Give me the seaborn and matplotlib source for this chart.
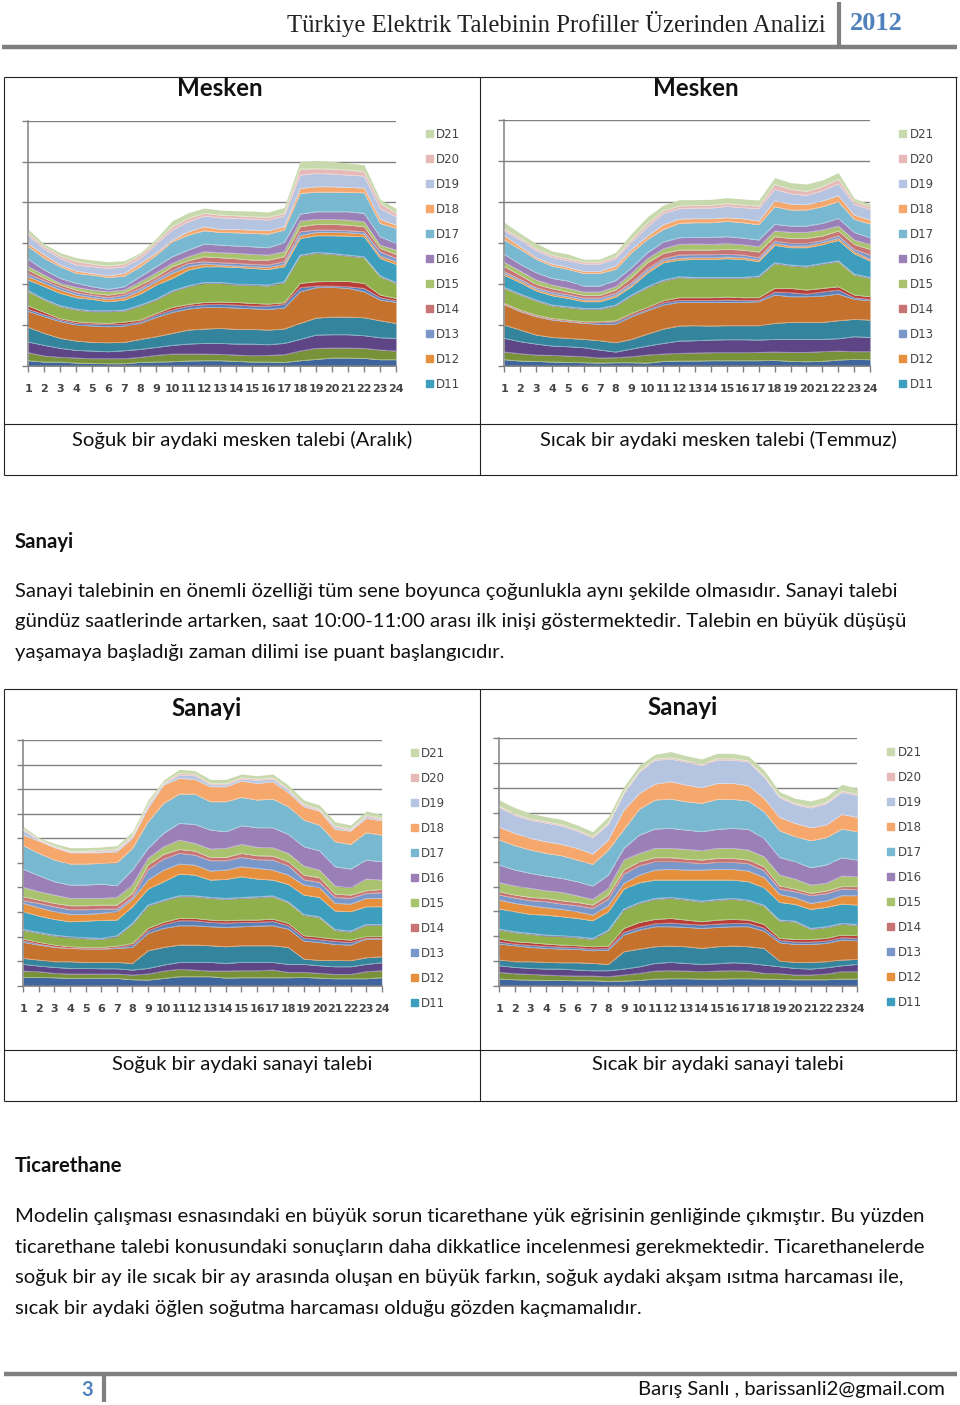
import numpy as np
import matplotlib
matplotlib.use("Agg")
import matplotlib.pyplot as plt
from matplotlib.lines import Line2D
from matplotlib.patches import Patch
import seaborn as sns

hours = list(range(1, 25))
series_names = ["D1","D3","D4","D5","D6","D7","D8","D9","D10","D11","D12","D13","D14","D15","D16","D17","D18","D19","D20","D21"]
series_colors = ["#3f659e","#78923a","#5e4585","#33849c","#c4722d","#5b80b8","#b83c38","#90b04c","#6a4f90","#3d9fbd","#e68f3c","#7a97c9","#c87473","#a9c26e","#9b80b8","#78b8d1","#f5a76c","#b5c4e0","#e6b9b8","#c9d9ae"]
legend_names = ["D21","D20","D19","D18","D17","D16","D15","D14","D13","D12","D11"]

# Cumulative stack tops (cold-month residential)
m1_d01=[16,12,12,9,8,7,7,11,12,13,15,16,16,14,12,12,11,16,20,24,24,23,19,19]
m1_d03=[40,30,26,24,22,22,22,26,32,36,36,36,35,33,31,32,34,45,53,54,54,53,48,45]
m1_d04=[72,62,53,47,45,43,46,50,56,62,66,68,68,66,66,64,68,80,93,94,94,91,85,83]
m1_d05=[116,98,83,75,71,70,71,80,88,98,108,111,113,110,110,108,111,128,144,147,147,145,136,128]
m1_d06=[164,148,133,123,120,118,120,128,146,161,171,176,176,174,172,170,174,223,235,236,233,223,198,191]
m1_d07=[170,154,138,128,126,124,125,133,153,168,180,184,185,183,180,180,185,235,240,240,238,233,205,196]
m1_d08=[180,161,142,133,130,128,132,138,158,176,185,191,192,191,188,186,190,248,253,254,254,248,213,203]
m1_d09=[223,198,178,168,163,163,165,180,198,223,238,248,248,243,242,240,250,330,338,335,330,325,268,248]
m1_d10=[226,201,181,171,166,166,168,183,201,226,241,251,251,246,245,243,253,333,341,338,333,328,271,251]
m1_d11=[258,238,218,205,200,193,198,216,243,263,288,298,298,296,293,290,298,383,391,391,390,388,323,305]
m1_d12=[268,248,228,213,205,200,205,226,253,278,298,306,303,300,298,296,305,391,401,401,400,396,330,313]
m1_d13=[276,256,236,220,212,205,213,233,260,286,308,313,310,308,305,303,313,403,408,408,406,403,343,323]
m1_d14=[288,263,243,228,218,213,220,243,268,298,316,328,325,322,318,318,328,418,425,425,423,418,353,335]
m1_d15=[298,273,248,236,228,223,228,253,280,308,328,343,340,338,335,333,343,435,440,440,438,433,363,348]
m1_d16=[320,288,263,248,238,230,238,268,298,328,348,366,363,360,358,355,370,456,463,463,463,458,388,368]
m1_d17=[358,323,298,278,273,266,270,298,333,373,393,406,401,400,398,396,408,518,522,522,521,520,428,413]
m1_d18=[366,333,303,285,278,271,278,308,340,378,403,418,410,410,408,406,418,533,538,538,536,534,440,423]
m1_d19=[391,351,323,303,298,293,298,323,366,408,433,450,445,443,441,438,450,573,578,576,573,570,473,448]
m1_d20=[398,358,330,313,306,300,306,333,373,418,443,458,453,451,448,446,458,591,592,591,588,583,488,458]
m1_d21=[410,366,340,325,318,313,316,340,383,436,460,474,468,466,465,462,476,614,617,614,609,604,500,473]

# warm-month residential
m2_d01=[19,15,14,12,11,10,9,10,10,9,14,15,15,16,16,16,16,17,14,13,14,18,20,19]
m2_d03=[42,37,33,32,30,28,24,25,28,33,36,38,39,40,40,40,41,42,41,41,43,45,43,43]
m2_d04=[83,73,66,60,58,55,48,42,51,60,68,75,76,78,79,79,78,80,80,80,80,82,88,86]
m2_d05=[123,108,93,86,83,80,76,70,80,96,111,120,121,120,121,121,121,128,131,131,131,136,140,138]
m2_d06=[184,163,148,138,133,128,125,126,148,166,183,191,191,191,191,191,193,213,208,208,210,216,200,196]
m2_d07=[185,165,150,140,135,130,130,133,153,170,190,197,197,197,198,197,197,222,220,216,222,228,205,200]
m2_d08=[188,168,153,143,138,133,133,136,158,176,196,205,205,205,207,205,205,233,233,228,233,238,213,208]
m2_d09=[233,213,195,180,175,170,170,180,210,235,255,265,263,263,263,263,267,307,300,297,305,313,273,263]
m2_d10=[236,216,198,183,178,173,173,183,213,238,258,268,266,266,266,266,270,310,303,300,308,316,276,266]
m2_d11=[272,250,225,211,203,193,193,207,238,279,310,318,320,320,322,320,313,362,355,355,364,377,337,315]
m2_d12=[278,255,230,216,208,198,198,212,243,285,316,323,325,325,327,325,318,368,360,360,370,383,343,320]
m2_d13=[283,260,235,222,214,204,204,218,250,292,322,333,334,334,335,333,325,375,368,368,376,391,350,333]
m2_d14=[298,272,245,232,222,212,212,228,265,310,338,348,348,348,350,348,342,388,383,383,390,405,365,350]
m2_d15=[311,285,258,243,233,222,222,238,278,322,352,365,366,365,367,364,358,405,401,401,408,420,378,365]
m2_d16=[335,305,280,263,255,240,240,256,295,340,372,385,386,386,388,384,378,425,420,420,428,443,401,385]
m2_d17=[378,350,320,300,290,278,278,290,340,380,410,428,430,430,434,430,424,478,468,468,478,493,440,426]
m2_d18=[391,358,325,306,296,284,284,300,350,390,424,441,442,442,445,442,435,495,486,484,495,511,453,438]
m2_d19=[405,378,346,326,316,306,306,322,372,418,458,472,474,474,479,475,472,530,517,512,526,547,485,470]
m2_d20=[411,384,352,332,322,312,312,328,380,428,466,480,482,482,487,483,480,545,530,524,538,560,493,478]
m2_d21=[431,398,368,345,336,320,321,341,398,448,483,499,499,500,505,501,498,565,550,546,558,580,503,486]

# cold-month industry
s1_d01=[25,25,24,22,22,22,22,18,17,22,27,27,27,23,24,24,24,24,25,23,21,21,21,24]
s1_d03=[44,42,37,35,35,35,35,32,35,44,49,47,44,44,45,45,47,40,40,37,34,34,42,45]
s1_d04=[64,59,55,52,52,51,51,47,52,62,70,70,70,67,70,70,70,64,64,60,57,57,64,69]
s1_d05=[82,77,72,72,70,70,70,67,105,115,122,122,120,117,120,120,120,115,80,76,76,75,84,87]
s1_d06=[130,122,115,112,110,110,112,115,157,172,180,180,177,175,177,179,180,170,134,130,124,122,140,140]
s1_d07=[135,125,117,112,111,111,115,122,165,183,195,195,190,188,190,190,193,180,143,138,133,130,142,142]
s1_d08=[140,130,122,117,115,115,119,127,172,190,202,202,197,195,197,197,200,187,150,145,140,137,147,147]
s1_d09=[166,157,149,144,141,139,147,184,239,254,267,267,262,259,262,264,267,249,211,204,166,161,181,181]
s1_d10=[169,160,152,147,144,142,150,187,242,257,270,270,265,262,265,267,270,252,214,207,169,164,184,184]
s1_d11=[222,209,199,192,194,196,197,237,290,312,335,332,317,319,327,320,317,304,272,265,224,222,237,237]
s1_d12=[247,234,222,214,214,217,222,259,317,347,365,362,344,347,357,352,347,332,302,294,247,245,262,262]
s1_d13=[255,247,237,228,228,230,230,265,348,380,397,392,375,375,385,378,377,360,318,310,265,262,277,279]
s1_d14=[267,257,247,240,240,242,242,277,362,394,409,404,385,385,397,390,389,372,332,324,275,272,285,289]
s1_d15=[295,282,272,262,262,262,265,302,382,417,437,427,410,412,424,415,414,397,359,347,299,294,320,317]
s1_d16=[349,330,312,302,302,305,300,347,412,457,487,484,467,462,480,474,474,454,417,405,357,350,377,372]
s1_d17=[420,397,377,365,365,367,369,412,492,547,575,575,552,552,565,557,560,537,497,482,432,424,459,452]
s1_d18=[452,434,414,399,399,399,402,442,532,602,622,619,597,597,614,607,612,579,537,524,469,464,502,495]
s1_d19=[466,436,416,401,401,402,406,446,540,605,632,630,603,603,620,616,620,586,541,526,476,466,508,498]
s1_d20=[470,439,419,404,404,406,410,450,545,608,637,635,607,607,624,620,624,590,545,530,480,470,512,502]
s1_d21=[477,444,427,414,414,416,420,462,557,617,649,645,619,619,635,630,635,602,557,542,492,482,524,514]

# warm-month industry
s2_d01=[20,18,17,16,16,15,15,13,14,16,20,21,21,20,20,21,21,20,19,18,18,18,20,20]
s2_d03=[40,36,34,32,30,29,29,27,32,37,44,45,44,42,44,45,44,37,36,32,32,35,42,42]
s2_d04=[60,55,52,50,50,47,45,45,50,57,67,70,67,64,66,69,67,62,57,52,50,54,60,64]
s2_d05=[77,72,72,70,69,69,67,64,102,110,117,119,117,112,117,119,117,112,74,70,70,72,77,79]
s2_d06=[125,120,115,112,110,109,105,107,152,167,177,177,175,172,175,177,177,164,129,124,124,127,137,135]
s2_d07=[131,125,121,118,116,114,110,112,160,175,186,188,185,182,185,187,187,173,136,131,131,134,144,142]
s2_d08=[140,132,129,125,122,120,117,119,172,190,199,202,197,192,197,199,197,184,142,139,139,142,152,150]
s2_d09=[167,159,154,149,147,144,139,164,227,247,259,262,257,251,256,259,254,239,194,191,169,174,184,181]
s2_d10=[170,162,157,152,150,147,142,167,230,250,262,265,260,254,259,262,257,242,197,194,172,177,187,184]
s2_d11=[230,222,214,212,207,202,195,222,290,309,317,317,317,317,317,317,312,294,250,244,229,235,245,242]
s2_d12=[257,247,240,234,229,222,212,240,307,332,347,349,347,347,349,349,344,325,274,264,247,254,270,270]
s2_d13=[272,263,255,252,245,240,232,260,335,360,372,372,370,366,370,370,366,345,290,282,270,276,290,288]
s2_d14=[282,272,265,262,255,250,242,272,347,372,384,384,380,377,382,382,377,357,299,290,277,284,297,297]
s2_d15=[309,299,292,285,280,270,259,292,377,397,412,412,409,405,412,412,407,387,332,320,302,307,329,327]
s2_d16=[362,347,337,329,322,312,299,332,412,452,470,472,467,462,469,472,469,442,385,372,354,362,384,377]
s2_d17=[437,420,407,397,390,377,364,407,469,530,557,560,552,547,559,559,554,522,465,447,435,444,470,462]
s2_d18=[475,457,442,432,424,412,395,437,527,577,605,612,602,594,607,607,600,562,505,487,474,482,514,505]
s2_d19=[534,511,496,488,479,464,443,484,576,641,676,680,671,660,677,677,671,626,564,543,533,546,580,571]
s2_d20=[538,515,500,492,483,468,447,488,580,645,680,684,675,664,681,681,675,630,568,547,537,550,584,575]
s2_d21=[557,534,517,507,499,482,462,507,597,662,694,702,690,680,697,697,689,647,582,562,554,567,604,592]

m1 = [m1_d01,m1_d03,m1_d04,m1_d05,m1_d06,m1_d07,m1_d08,m1_d09,m1_d10,m1_d11,m1_d12,m1_d13,m1_d14,m1_d15,m1_d16,m1_d17,m1_d18,m1_d19,m1_d20,m1_d21]
m2 = [m2_d01,m2_d03,m2_d04,m2_d05,m2_d06,m2_d07,m2_d08,m2_d09,m2_d10,m2_d11,m2_d12,m2_d13,m2_d14,m2_d15,m2_d16,m2_d17,m2_d18,m2_d19,m2_d20,m2_d21]
s1 = [s1_d01,s1_d03,s1_d04,s1_d05,s1_d06,s1_d07,s1_d08,s1_d09,s1_d10,s1_d11,s1_d12,s1_d13,s1_d14,s1_d15,s1_d16,s1_d17,s1_d18,s1_d19,s1_d20,s1_d21]
s2 = [s2_d01,s2_d03,s2_d04,s2_d05,s2_d06,s2_d07,s2_d08,s2_d09,s2_d10,s2_d11,s2_d12,s2_d13,s2_d14,s2_d15,s2_d16,s2_d17,s2_d18,s2_d19,s2_d20,s2_d21]

sns.set_theme(style="white")
plt.rcParams["font.family"] = ["Lato", "DejaVu Sans"]
W, H = 960, 1405
fig = plt.figure(figsize=(W/100, H/100), dpi=100, facecolor="white")
palette = sns.color_palette(series_colors)

def fx(x): return x / W
def fy(y): return 1 - y / H

def hline(y, x0, x1, c="#7f7f7f", lw=1.0):
    fig.add_artist(Line2D([fx(x0), fx(x1)], [fy(y), fy(y)], color=c, lw=lw, solid_capstyle="butt"))
def vline(x, y0, y1, c="#7f7f7f", lw=1.0):
    fig.add_artist(Line2D([fx(x), fx(x)], [fy(y0), fy(y1)], color=c, lw=lw, solid_capstyle="butt"))
def txt(x, y, s, size=14.55, ha="left", color="#111111", weight="normal", family=None):
    kw = {"family": family} if family else {}
    fig.text(fx(x), fy(y), s, fontsize=size, ha=ha, va="center", color=color, fontweight=weight, **kw)

def chart(tops, x0, x1, ytop, ybase, ymax, nint, title, tx, ty, legx, legy):
    ax = fig.add_axes([fx(x0), fy(ybase), fx(x1 - x0), (ybase - ytop) / H])
    tops = np.array(tops, dtype=float)
    vals = np.diff(tops, axis=0, prepend=0)
    ax.stackplot(hours, vals, colors=palette, linewidth=0, zorder=2)
    for row in tops[:-1]:
        sns.lineplot(x=hours, y=row, color="white", lw=0.5, alpha=0.45, ax=ax, zorder=3, legend=False)
    ax.set_xlim(1, 24)
    ax.set_ylim(0, ymax)
    ax.set_xticks(hours)
    ax.set_xticklabels([str(h) for h in hours], fontsize=8, color="#444444", fontweight="bold", family="DejaVu Sans")
    ticks = np.linspace(0, ymax, nint + 1)
    ax.set_yticks(ticks)
    ax.set_yticklabels([])
    ax.set_ylabel(""); ax.set_xlabel("")
    ax.yaxis.grid(True, color="#808080", lw=1.0, zorder=1)
    ax.xaxis.grid(False)
    ax.set_axisbelow(True)
    ax.tick_params(axis="both", length=4, width=1, color="#808080", pad=9, bottom=True, left=True)
    ax.patch.set_alpha(0)
    sns.despine(ax=ax, top=True, right=True)
    for sp in ("left", "bottom"):
        ax.spines[sp].set_color("#808080")
        ax.spines[sp].set_linewidth(1.1)
    handles = []
    for nm in legend_names:
        handles.append(Patch(color=series_colors[series_names.index(nm)], label=nm))
    fig.legend(handles=handles, loc="upper left", bbox_to_anchor=(fx(legx), fy(legy)), bbox_transform=fig.transFigure,
               frameon=False, labelcolor="#444444", handlelength=0.6, handleheight=0.6,
               handletextpad=0.3, labelspacing=1.017, borderpad=0, borderaxespad=0,
               prop={"family": "DejaVu Sans", "size": 8.5})
    fig.text(fx(tx), fy(ty), title, fontsize=17.4, fontweight="bold", ha="center", va="center", color="#111111")

chart(m1, 28.3, 396, 120.7, 366, 736, 6, "Mesken", 220, 88, 425.5, 127.5)
chart(m2, 504.3, 870, 120.3, 366, 737, 6, "Mesken", 695.5, 88, 899, 127.5)
chart(s1, 23.3, 381.7, 740, 985.7, 737, 10, "Sanayi", 207, 708.5, 410.5, 746.7)
chart(s2, 499.3, 857.3, 738.3, 985.7, 742, 10, "Sanayi", 682.5, 707.5, 887, 745.5)

# header
hline(46.5, 2, 957, lw=3.2)
vline(838.5, 2, 46, lw=3.0)
txt(826, 24, "Türkiye Elektrik Talebinin Profiller Üzerinden Analizi", size=17.85, ha="right", color="#222222", family="Liberation Serif")
txt(850, 24, "2012", size=19, color="#4f81bd", weight="bold", family="Liberation Serif")

# tables
for top, mid, bot in [(76.5, 423.5, 475), (688.5, 1049.5, 1101)]:
    hline(top, 4, 957, c="#222222", lw=0.8)
    hline(mid, 4, 957, c="#222222", lw=0.8)
    hline(bot, 4, 957, c="#222222", lw=0.8)
    vline(4, top, bot, c="#222222", lw=0.8)
    vline(480, top, bot, c="#222222", lw=0.8)
    vline(956, top, bot, c="#222222", lw=0.8)

txt(242, 439.5, "Soğuk bir aydaki mesken talebi (Aralık)", ha="center")
txt(718, 439.5, "Sıcak bir aydaki mesken talebi (Temmuz)", ha="center")
txt(242, 1064.5, "Soğuk bir aydaki sanayi talebi", ha="center")
txt(718, 1064.5, "Sıcak bir aydaki sanayi talebi", ha="center")

txt(15, 541.5, "Sanayi", weight="bold")
txt(15, 591.5, "Sanayi talebinin en önemli özelliği tüm sene boyunca çoğunlukla aynı şekilde olmasıdır. Sanayi talebi")
txt(15, 621.5, "gündüz saatlerinde artarken, saat 10:00-11:00 arası ilk inişi göstermektedir. Talebin en büyük düşüşü")
txt(15, 652.5, "yaşamaya başladığı zaman dilimi ise puant başlangıcıdır.")

txt(15, 1166.5, "Ticarethane", weight="bold")
txt(15, 1216.5, "Modelin çalışması esnasındaki en büyük sorun ticarethane yük eğrisinin genliğinde çıkmıştır. Bu yüzden")
txt(15, 1247.5, "ticarethane talebi konusundaki sonuçların daha dikkatlice incelenmesi gerekmektedir. Ticarethanelerde")
txt(15, 1277.5, "soğuk bir ay ile sıcak bir ay arasında oluşan en büyük farkın, soğuk aydaki akşam ısıtma harcaması ile,")
txt(15, 1308.5, "sıcak bir aydaki öğlen soğutma harcaması olduğu gözden kaçmamalıdır.")

# footer
hline(1374, 4, 957, lw=3.2)
vline(103.5, 1374, 1402, lw=3.0)
txt(87, 1390, "3", size=14.5, ha="center", color="#4f81bd", weight="bold")
txt(945, 1390, "Barış Sanlı , barissanli2@gmail.com", ha="right")

fig.savefig("out.png", dpi=100, facecolor="white")
